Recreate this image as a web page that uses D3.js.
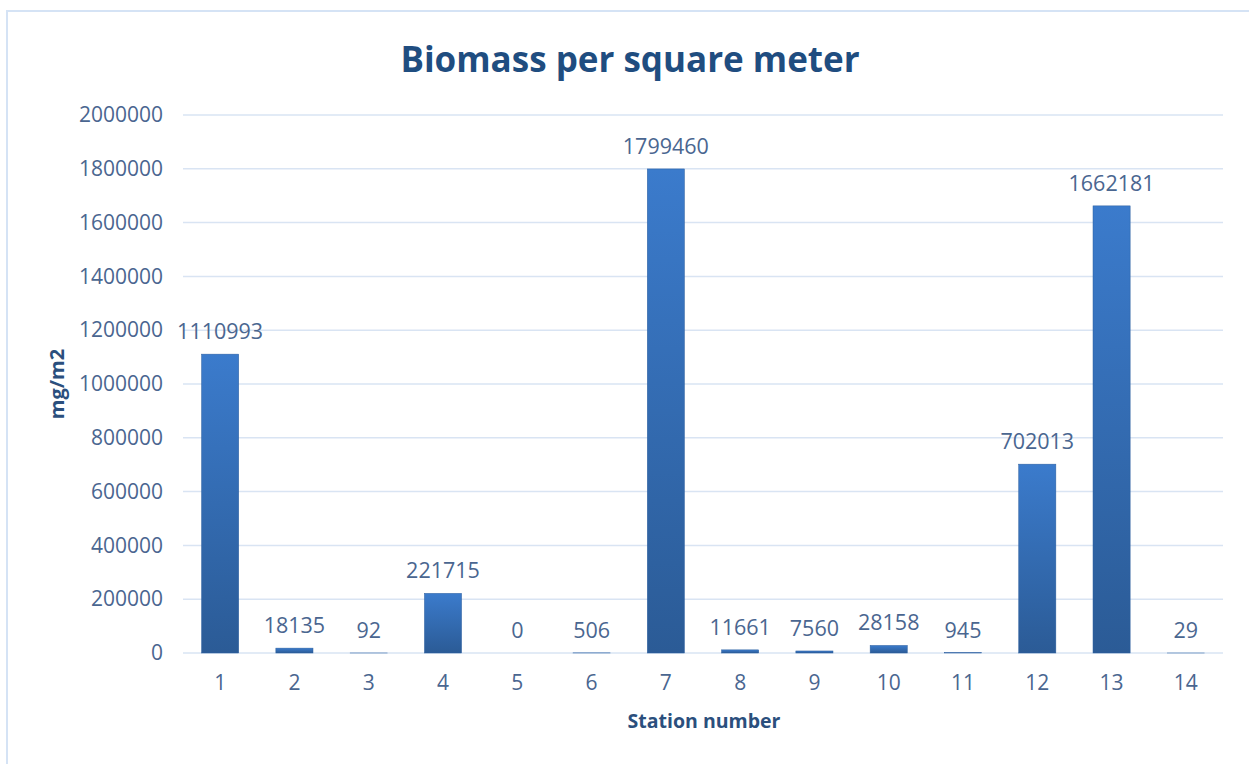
<!DOCTYPE html>
<html>
<head>
<meta charset="utf-8">
<script src="https://cdn.jsdelivr.net/npm/d3@7"></script>
<style>
  body { margin: 0; background: #fff; }
  text { font-family: "Open Sans", sans-serif; }
</style>
</head>
<body>
<div id="chart"></div>
<script>
const stations = ["1","2","3","4","5","6","7","8","9","10","11","12","13","14"]
const biomass = [1110993, 18135, 92, 221715, 0, 506, 1799460, 11661, 7560, 28158, 945, 702013, 1662181, 29]
const yTicks = [0, 200000, 400000, 600000, 800000, 1000000, 1200000, 1400000, 1600000, 1800000, 2000000]

const width = 1249, height = 764
const margin = { top: 115, right: 26, bottom: 111, left: 183 }

const svg = d3.select("#chart").append("svg")
    .attr("width", width)
    .attr("height", height)

// chart frame
svg.append("rect")
    .attr("x", 7).attr("y", 11)
    .attr("width", width + 10).attr("height", height + 10)
    .attr("fill", "none")
    .attr("stroke", "#d5e3f5")
    .attr("stroke-width", 2)

const defs = svg.append("defs")
const grad = defs.append("linearGradient")
    .attr("id", "barGrad")
    .attr("x1", 0).attr("y1", 0).attr("x2", 0).attr("y2", 1)
grad.append("stop").attr("offset", "0%").attr("stop-color", "#3b7bcc")
grad.append("stop").attr("offset", "100%").attr("stop-color", "#2b5b96")

const x = d3.scaleBand()
    .domain(stations)
    .range([margin.left, width - margin.right])
    .paddingInner(0.5)
    .paddingOuter(0.25)

const y = d3.scaleLinear()
    .domain([0, 2000000])
    .range([height - margin.bottom, margin.top])

// gridlines
svg.append("g")
    .selectAll("line")
    .data(yTicks)
    .enter().append("line")
    .attr("x1", margin.left)
    .attr("x2", width - margin.right)
    .attr("y1", d => y(d))
    .attr("y2", d => y(d))
    .attr("stroke", "#d9e4f3")
    .attr("stroke-width", 1.5)

// y axis labels
const yAxis = svg.append("g")
    .attr("transform", `translate(${margin.left - 20},0)`)
    .call(d3.axisLeft(y).tickValues(yTicks).tickSize(0).tickPadding(0).tickFormat(d3.format("d")))
yAxis.select(".domain").remove()
yAxis.selectAll("text")
    .attr("font-size", 21)
    .attr("fill", "#4a6690")
    .attr("font-family", "Open Sans, sans-serif")

// x axis labels
const xAxis = svg.append("g")
    .attr("transform", `translate(0,${height - margin.bottom})`)
    .call(d3.axisBottom(x).tickSize(0).tickPadding(22))
xAxis.select(".domain").remove()
xAxis.selectAll("text")
    .attr("font-size", 21)
    .attr("fill", "#4a6690")
    .attr("font-family", "Open Sans, sans-serif")

// bars
svg.append("g")
    .selectAll("rect")
    .data(biomass)
    .enter().append("rect")
    .attr("x", (d, i) => x(stations[i]))
    .attr("width", x.bandwidth())
    .attr("y", d => y(d))
    .attr("height", d => y(0) - y(d))
    .attr("fill", "url(#barGrad)")
    .attr("stroke", "#2d5f9e")
    .attr("stroke-width", 0.5)

// data labels
svg.append("g")
    .selectAll("text")
    .data(biomass)
    .enter().append("text")
    .attr("x", (d, i) => x(stations[i]) + x.bandwidth() / 2)
    .attr("y", d => y(d) - 15)
    .attr("text-anchor", "middle")
    .attr("font-size", 21.5)
    .attr("fill", "#4a6690")
    .text(d => d)

// title
svg.append("text")
    .attr("x", 630)
    .attr("y", 72)
    .attr("text-anchor", "middle")
    .attr("font-size", 35)
    .attr("font-weight", 700)
    .attr("fill", "#1f4d80")
    .text("Biomass per square meter")

// axis titles
svg.append("text")
    .attr("x", 704)
    .attr("y", 728)
    .attr("text-anchor", "middle")
    .attr("font-size", 19.5)
    .attr("font-weight", 700)
    .attr("fill", "#2b4f7d")
    .text("Station number")

svg.append("text")
    .attr("transform", `translate(64,${(margin.top + height - margin.bottom) / 2}) rotate(-90)`)
    .attr("text-anchor", "middle")
    .attr("font-size", 20)
    .attr("font-weight", 700)
    .attr("fill", "#2b4f7d")
    .text("mg/m2")
</script>
</body>
</html>
